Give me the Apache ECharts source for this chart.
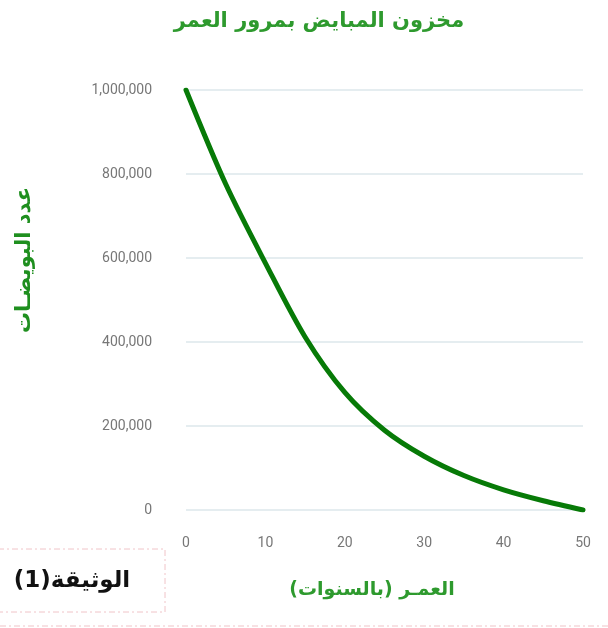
<!DOCTYPE html>
<html><head><meta charset="utf-8">
<script src="https://cdn.jsdelivr.net/npm/echarts@6/dist/echarts.min.js"></script>
<style>html,body{margin:0;padding:0;background:#fff}#c{width:608px;height:628px}</style>
</head><body><div id="c"></div>
<script>
const ages = [0, 5, 10, 15, 20, 25, 30, 35, 40, 45, 50];
const eggs = [1000000, 776000, 588000, 412000, 280000, 190000, 128000, 82000, 48000, 22000, 0];
const xTicks = [0, 10, 20, 30, 40, 50];
const yTicks = [0, 200000, 400000, 600000, 800000, 1000000];
const titleText = 'مخزون المبايض بمرور العمر';
const xName = 'العمـر (بالسنوات)';
const yName = 'عدد البويضـات';
const docLabel = 'الوثيقة(1)';

const chart = echarts.init(document.getElementById('c'));
chart.setOption({
  animation: false,
  title: {
    text: titleText, left: 314, top: 6, textAlign: 'center',
    textStyle: {fontFamily: 'DejaVu Sans', fontWeight: 'bold', fontSize: 21, color: '#2e9a2e'}
  },
  grid: {left: 186, right: 25, top: 90, bottom: 118},
  xAxis: {
    type: 'value', min: 0, max: 50, interval: 10,
    axisLine: {show: false}, axisTick: {show: false},
    axisLabel: {margin: 26, color: '#777', fontFamily: 'Roboto', fontSize: 14,
      formatter: v => xTicks.includes(v) ? String(v) : ''},
    splitLine: {show: false}
  },
  yAxis: {
    type: 'value', min: 0, max: 1000000, interval: 200000,
    axisLine: {show: false}, axisTick: {show: false},
    axisLabel: {margin: 34, color: '#777', fontFamily: 'Roboto', fontSize: 14,
      formatter: v => yTicks.includes(v) ? v.toLocaleString('en-US') : ''},
    splitLine: {lineStyle: {color: '#dde7eb', width: 1.5}}
  },
  series: [{
    type: 'line', smooth: 0.3, symbol: 'none',
    data: ages.map((a, i) => [a, eggs[i]]),
    lineStyle: {color: '#077a07', width: 5, cap: 'round'}
  }],
  graphic: [
    {type: 'text', x: 372, y: 590,
      style: {text: xName, fontFamily: 'DejaVu Sans', fontWeight: 'bold', fontSize: 19, fill: '#2e9a2e',
        align: 'center', verticalAlign: 'middle'}},
    {type: 'text', x: 25, y: 260, rotation: Math.PI / 2,
      style: {text: yName, fontFamily: 'DejaVu Sans', fontWeight: 'bold', fontSize: 21, fill: '#1f8f1f',
        align: 'center', verticalAlign: 'middle'}},
    {type: 'rect', shape: {x: -2, y: 549, width: 167, height: 63},
      style: {fill: 'none', stroke: '#f0c4c8', lineWidth: 1, lineDash: [6, 3, 2, 3]}},
    {type: 'line', shape: {x1: 0, y1: 626, x2: 608, y2: 626},
      style: {stroke: '#f0c4c8', lineWidth: 1.2, lineDash: [6, 3, 2, 3]}},
    {type: 'text', x: 72, y: 581,
      style: {text: docLabel, fontFamily: 'DejaVu Sans', fontWeight: 'bold', fontSize: 23, fill: '#111',
        align: 'center', verticalAlign: 'middle'}}
  ]
});
</script></body></html>
